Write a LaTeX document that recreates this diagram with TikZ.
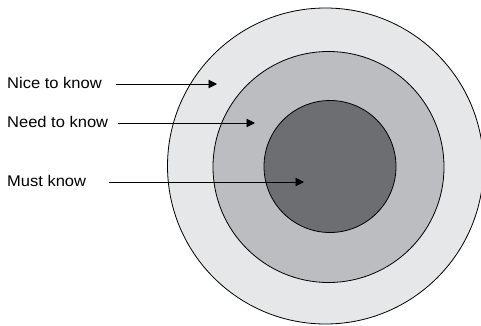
\documentclass[tikz,border=0pt]{standalone}
\usepackage{fontspec}
\setmainfont{Liberation Sans}[FakeStretch=1.065]
\usetikzlibrary{arrows.meta}
\definecolor{ringout}{HTML}{E6E7E8}
\definecolor{ringmid}{HTML}{BCBDC0}
\definecolor{ringin}{HTML}{6D6E71}
\tikzset{
  ring/.style={draw=black, line width=0.8pt},
  lbl/.style={anchor=base west, inner sep=0pt, font=\fontsize{15.5}{18}\selectfont},
  pointer/.style={line width=0.9pt, -{Triangle[length=8.5pt,width=8.5pt]}}
}
\begin{document}
\begin{tikzpicture}[x=1pt,y=-1pt]
\useasboundingbox (0,0) rectangle (481,326);
\draw[ring, fill=ringout] (325.5,166) circle (158);
\draw[ring, fill=ringmid] (328.5,167) circle (115.5);
\draw[ring, fill=ringin] (330,166.5) circle (66);
\node[lbl] (nice) at (7,88.3) {Nice to know};
\node[lbl] (need) at (7,127.5) {Need to know};
\node[lbl] (must) at (7,186) {Must know};
\coordinate (nicea) at (116,84);
\coordinate (niceb) at (217,84);
\coordinate (needa) at (118,123);
\coordinate (needb) at (255,123);
\coordinate (musta) at (109,182);
\coordinate (mustb) at (304,182);
\draw[pointer] (nicea) -- (niceb);
\draw[pointer] (needa) -- (needb);
\draw[pointer] (musta) -- (mustb);
\end{tikzpicture}
\end{document}
